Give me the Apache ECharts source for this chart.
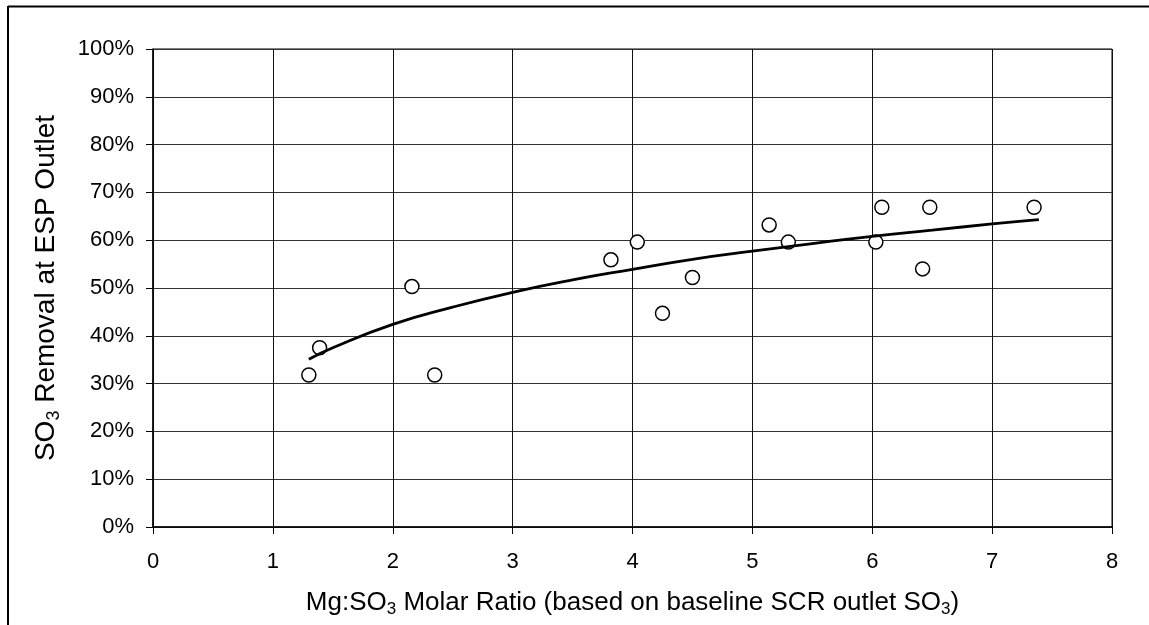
<!DOCTYPE html>
<html><head><meta charset="utf-8">
<script src="https://cdn.jsdelivr.net/npm/echarts@6/dist/echarts.min.js"></script>
<style>html,body{margin:0;padding:0;background:#fff}#c{width:1149px;height:625px}</style>
</head><body><div id="c"></div>
<script>
// Measured points: Mg:SO3 molar ratio vs SO3 removal (%)
const ratioX   = [1.30, 1.39, 2.16, 2.35, 3.82, 4.04, 4.25, 4.50, 5.14, 5.30, 6.03, 6.08, 6.42, 6.48, 7.35];
const removalY = [31.8, 37.5, 50.3, 31.8, 55.9, 59.6, 44.7, 52.2, 63.2, 59.6, 59.6, 66.9, 54.0, 66.9, 66.9];
// Trend curve points
const trendX = [1.30, 1.5, 2.0, 2.5, 3.0, 3.5, 4.0, 4.5, 5.0, 5.5, 6.0, 6.5, 7.0, 7.39];
const trendY = [35.1, 37.5, 42.4, 46.0, 49.1, 51.7, 53.9, 56.0, 57.7, 59.3, 60.8, 62.1, 63.4, 64.3];
// Axis tick labels
const yTickLabels = ['0%','10%','20%','30%','40%','50%','60%','70%','80%','90%','100%'];

const font = '"Liberation Sans", Arial, sans-serif';
const chart = echarts.init(document.getElementById('c'), null, {renderer: 'canvas'});
const pts = ratioX.map((x, i) => [x, removalY[i]]);
const trend = trendX.map((x, i) => [x, trendY[i]]);

chart.setOption({
  animation: false,
  backgroundColor: '#fff',
  textStyle: {fontFamily: font, color: '#000'},
  grid: {left: 153, right: 37, top: 49, bottom: 98, show: true, borderColor: '#000', borderWidth: 1, backgroundColor: 'transparent'},
  graphic: [
    {type: 'line', shape: {x1: 8, y1: 6.5, x2: 1149, y2: 6.5}, style: {stroke: '#000', lineWidth: 2}, silent: true},
    {type: 'line', shape: {x1: 8, y1: 6, x2: 8, y2: 625}, style: {stroke: '#000', lineWidth: 2}, silent: true}
  ],
  xAxis: {
    type: 'value', min: 0, max: 8, interval: 1,
    axisLine: {show: true, lineStyle: {color: '#000', width: 1.5}},
    axisTick: {show: true, inside: false, length: 7, lineStyle: {color: '#000', width: 1}},
    splitLine: {show: true, lineStyle: {color: '#111', width: 1}},
    axisLabel: {fontSize: 22, color: '#000', fontFamily: font, margin: 24},
    name: '{n|Mg:SO}{s|3}{n| Molar Ratio (based on baseline SCR outlet SO}{s|3}{n|)}',
    nameLocation: 'middle', nameGap: 60,
    nameTextStyle: {
      fontFamily: font, color: '#000',
      rich: {
        n: {fontSize: 26, fontFamily: font, color: '#000'},
        s: {fontSize: 17, fontFamily: font, color: '#000', padding: [14, 0, 0, 0]}
      }
    }
  },
  yAxis: {
    type: 'value', min: 0, max: 100, interval: 10,
    axisLine: {show: true, lineStyle: {color: '#000', width: 1.5}},
    axisTick: {show: true, inside: false, length: 7, lineStyle: {color: '#000', width: 1}},
    splitLine: {show: true, lineStyle: {color: '#333', width: 1}},
    axisLabel: {fontSize: 22, color: '#000', fontFamily: font, margin: 19,
      formatter: (v) => yTickLabels[Math.round(v / 10)]},
    name: '{n|SO}{s|3}{n| Removal at ESP Outlet}',
    nameLocation: 'middle', nameGap: 90, nameRotate: 90,
    nameTextStyle: {
      fontFamily: font, color: '#000',
      rich: {
        n: {fontSize: 28, fontFamily: font, color: '#000'},
        s: {fontSize: 18, fontFamily: font, color: '#000', padding: [15, 0, 0, 0]}
      }
    }
  },
  series: [
    {
      type: 'scatter', data: pts, symbol: 'circle', symbolSize: 14,
      itemStyle: {color: '#fff', borderColor: '#000', borderWidth: 1.5, opacity: 1},
      z: 2
    },
    {
      type: 'line', data: trend, smooth: true, showSymbol: false, symbol: 'none',
      lineStyle: {color: '#000', width: 2.8}, z: 3
    }
  ]
});
</script></body></html>
